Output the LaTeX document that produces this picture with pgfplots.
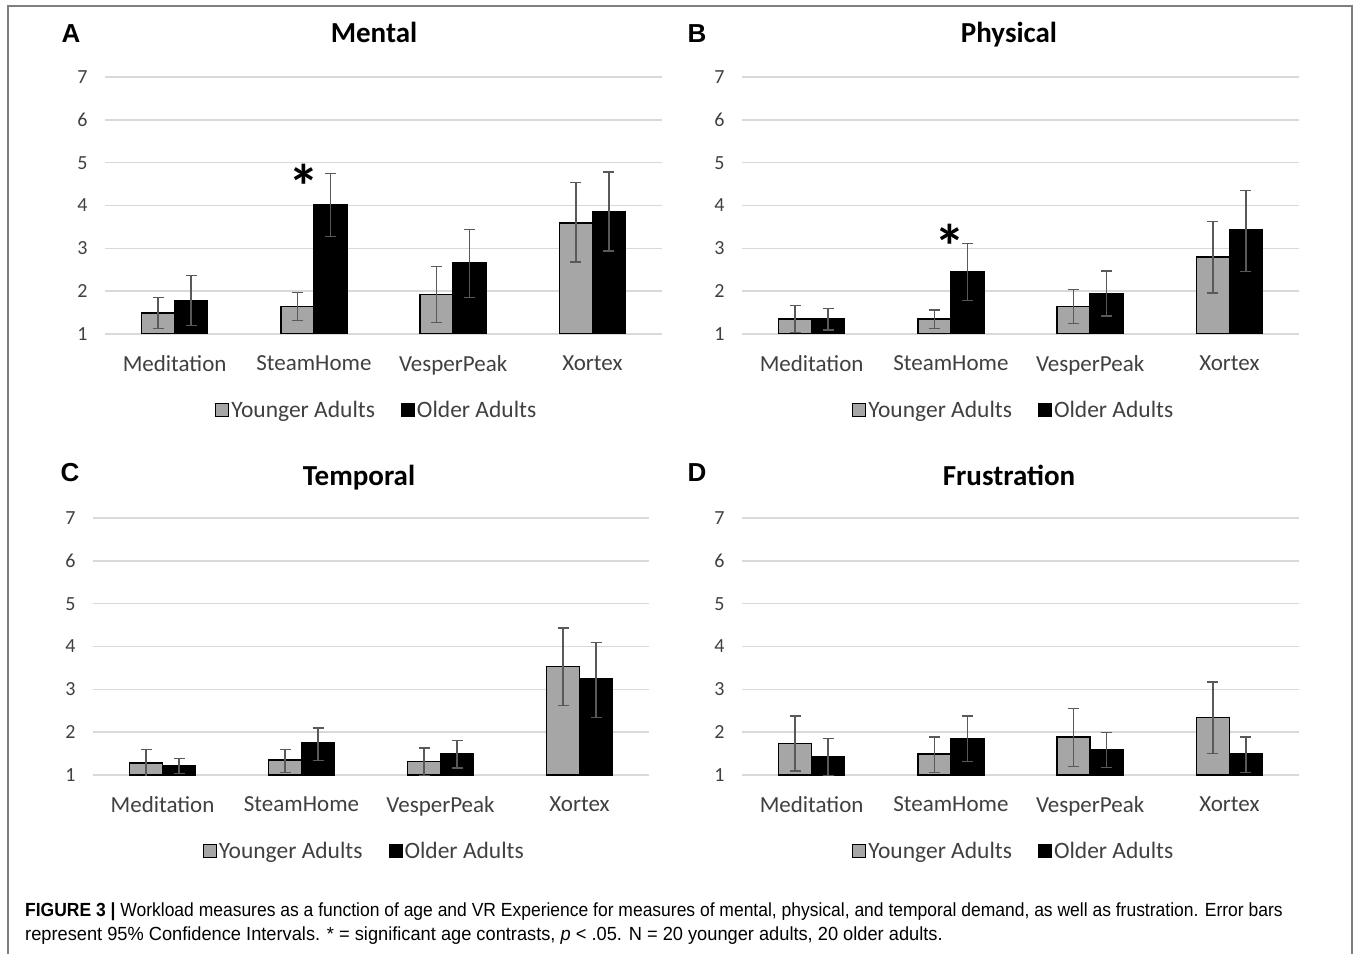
\documentclass[border=0pt]{standalone}
\usepackage{graphicx}
\usepackage{pgfplots}
\pgfplotsset{compat=1.18}
\usepackage{pgfplotstable}
\usepackage{fontspec}
\setmainfont{Carlito}
\newfontfamily\arialfont{Liberation Sans}
\definecolor{gridc}{HTML}{D9D9D9}
\definecolor{barg}{HTML}{A6A6A6}
\definecolor{errc}{HTML}{595959}
\definecolor{txt}{HTML}{404040}
\definecolor{framec}{HTML}{7F7F7F}

% x y ep em  (mean, upper error, lower error)
\pgfplotstableread{
x y ep em
0 1.49 0.37 0.36
1 1.64 0.33 0.33
2 1.93 0.65 0.66
3 3.59 0.94 0.91
}\mentalY
\pgfplotstableread{
x y ep em
0 1.79 0.57 0.59
1 4.03 0.72 0.76
2 2.66 0.78 0.80
3 3.86 0.92 0.92
}\mentalO
\pgfplotstableread{
x y ep em
0 1.35 0.32 0.32
1 1.35 0.21 0.22
2 1.64 0.40 0.40
3 2.80 0.83 0.84
}\physY
\pgfplotstableread{
x y ep em
0 1.35 0.25 0.26
1 2.45 0.66 0.67
2 1.94 0.53 0.52
3 3.43 0.92 0.97
}\physO
\pgfplotstableread{
x y ep em
0 1.28 0.31 0.31
1 1.35 0.24 0.29
2 1.31 0.32 0.32
3 3.53 0.90 0.90
}\tempY
\pgfplotstableread{
x y ep em
0 1.21 0.17 0.18
1 1.75 0.35 0.41
2 1.50 0.31 0.34
3 3.25 0.85 0.91
}\tempO
\pgfplotstableread{
x y ep em
0 1.74 0.64 0.65
1 1.49 0.40 0.43
2 1.89 0.67 0.69
3 2.35 0.82 0.85
}\frusY
\pgfplotstableread{
x y ep em
0 1.42 0.43 0.43
1 1.85 0.53 0.54
2 1.60 0.39 0.43
3 1.50 0.39 0.44
}\frusO

\pgfplotsset{panel/.style={
  scale only axis, width=557pt, height=257pt,
  anchor=south west,
  ymin=1, ymax=7, ytick={1,2,3,4,5,6,7},
  xmin=-0.5, xmax=3.5, xtick={0,1,2,3},
  xticklabels={Meditation,SteamHome,VesperPeak,Xortex},
  axis line style={draw=none},
  major tick length=0pt,
  ymajorgrids, grid style={draw=gridc, line width=1.5pt},
  ybar=0pt, bar width=33pt,
  /pgf/number format/assume math mode=true,
  yticklabel style={font=\fontsize{20}{24}\selectfont, text=txt, xshift=-14pt},
  xticklabel style={font=\fontsize{23}{27}\selectfont, text=txt, yshift=-18pt},
  legend style={draw=none, fill=none, at={(0.488,-0.296)}, anchor=center,
    legend columns=2, font=\fontsize{23.5}{28}\selectfont, text=txt,
    /tikz/every even column/.append style={column sep=24pt}},
  legend image code/.code={\draw[##1, draw=black, line width=1pt] (0pt,-6.5pt) rectangle (13pt,6.5pt);},
  error bars/y dir=both, error bars/y explicit,
  error bars/error bar style={draw=errc, line width=1.3pt},
  error bars/error mark options={draw=errc, line width=1.3pt, mark size=5.5pt, rotate=90},
}}

\newcommand{\titlefont}{\fontsize{29}{34}\selectfont\bfseries}
\newcommand{\letterfont}{\arialfont\fontsize{26}{30}\selectfont\bfseries}
\newcommand{\capfont}{\arialfont\fontsize{19}{22}\selectfont}

\begin{document}
\begin{tikzpicture}
\path[use as bounding box] (0,0) rectangle (1356pt,953pt);
\fill[white] (0,0) rectangle (1356pt,953pt);
\draw[framec, line width=1.5pt] (8pt,-2pt) -- (8pt,947pt) -- (1352pt,947pt) -- (1352pt,-2pt);

% Panel A
\begin{axis}[panel, at={(105pt,619pt)}]
\addplot[fill=barg, draw=black, line width=1.3pt] table[x=x, y=y, y error plus=ep, y error minus=em] {\mentalY};
\addplot[fill=black, draw=black, line width=1.3pt] table[x=x, y=y, y error plus=ep, y error minus=em] {\mentalO};
\legend{Younger Adults, Older Adults}
\node[anchor=base, font=\fontsize{62}{70}\selectfont\bfseries] at (axis cs:0.93,3.93) {*};
\end{axis}
% Panel B
\begin{axis}[panel, at={(742pt,619pt)}]
\addplot[fill=barg, draw=black, line width=1.3pt] table[x=x, y=y, y error plus=ep, y error minus=em] {\physY};
\addplot[fill=black, draw=black, line width=1.3pt] table[x=x, y=y, y error plus=ep, y error minus=em] {\physO};
\legend{Younger Adults, Older Adults}
\node[anchor=base, font=\fontsize{62}{70}\selectfont\bfseries] at (axis cs:0.99,2.53) {*};
\end{axis}
% Panel C
\begin{axis}[panel, width=556pt, at={(93pt,178pt)}]
\addplot[fill=barg, draw=black, line width=1.3pt] table[x=x, y=y, y error plus=ep, y error minus=em] {\tempY};
\addplot[fill=black, draw=black, line width=1.3pt] table[x=x, y=y, y error plus=ep, y error minus=em] {\tempO};
\legend{Younger Adults, Older Adults}
\end{axis}
% Panel D
\begin{axis}[panel, at={(742pt,178pt)}]
\addplot[fill=barg, draw=black, line width=1.3pt] table[x=x, y=y, y error plus=ep, y error minus=em] {\frusY};
\addplot[fill=black, draw=black, line width=1.3pt] table[x=x, y=y, y error plus=ep, y error minus=em] {\frusO};
\legend{Younger Adults, Older Adults}
\end{axis}

% titles and panel letters
\node[anchor=base, inner sep=0] at (374pt,910pt) {\titlefont Mental};
\node[anchor=base, inner sep=0] at (1009pt,910pt) {\titlefont Physical};
\node[anchor=base, inner sep=0] at (359pt,467pt) {\titlefont Temporal};
\node[anchor=base, inner sep=0] at (1009pt,467pt) {\titlefont Frustration};
\node[anchor=base, inner sep=0] at (71pt,910pt) {\letterfont A};
\node[anchor=base, inner sep=0] at (697pt,910pt) {\letterfont B};
\node[anchor=base, inner sep=0] at (70pt,471pt) {\letterfont C};
\node[anchor=base, inner sep=0] at (697pt,471pt) {\letterfont D};

% caption
\node[anchor=base west, inner sep=0] at (25pt,37pt) {\scalebox{0.92}[1]{\capfont\textbf{FIGURE 3 |} Workload measures as a function of age and VR Experience for measures of mental, physical, and temporal demand, as well as frustration. Error bars}};
\node[anchor=base west, inner sep=0] at (25pt,13pt) {\scalebox{0.96}[1]{\capfont represent 95\% Confidence Intervals. * = significant age contrasts, \textit{p} {\textless} .05. N = 20 younger adults, 20 older adults.}};
\end{tikzpicture}
\end{document}
